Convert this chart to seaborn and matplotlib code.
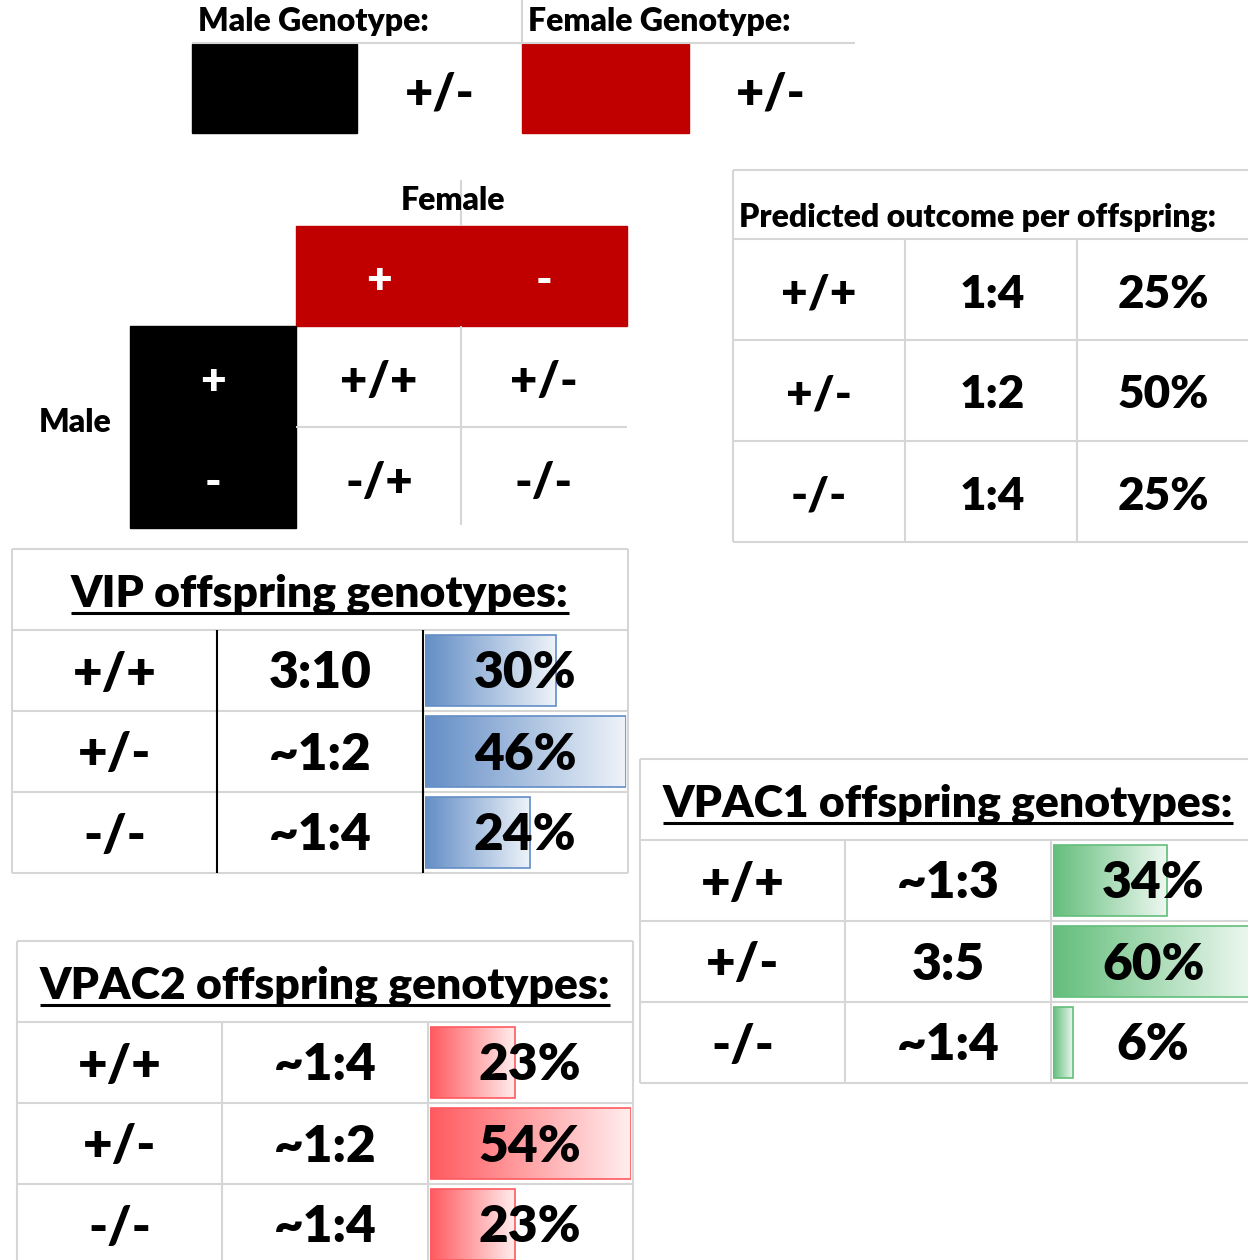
import numpy as np
import matplotlib
matplotlib.use("Agg")
import matplotlib.pyplot as plt
import seaborn as sns
from matplotlib.patches import Rectangle
from matplotlib.colors import LinearSegmentedColormap, to_rgb

sns.set_theme(style="white")
plt.rcParams['font.family'] = ['Lato', 'DejaVu Sans']

# ---- data ----
male_genotype = '+/-'
female_genotype = '+/-'
male_alleles = ['+', '-']
female_alleles = ['+', '-']

genotypes = ['+/+', '+/-', '-/-']
predicted_ratio = ['1:4', '1:2', '1:4']
predicted_pct = [25, 50, 25]

vip_ratio = ['3:10', '~1:2', '~1:4']
vip_pct = [30, 46, 24]

vpac1_ratio = ['~1:3', '3:5', '~1:4']
vpac1_pct = [34, 60, 6]

vpac2_ratio = ['~1:4', '~1:2', '~1:4']
vpac2_pct = [23, 54, 23]

W, H = 1248, 1260
GRID = '#D6D6D6'
RED = '#C00000'

fig = plt.figure(figsize=(W / 100, H / 100), dpi=100)
ax = fig.add_axes([0, 0, 1, 1])
ax.set_xlim(0, W)
ax.set_ylim(H, 0)
ax.axis('off')
ax.set_zorder(5)
ax.patch.set_visible(False)


def hline(y, x0, x1, c=GRID, lw=1.5):
    ax.plot([x0, x1], [y, y], color=c, lw=lw, solid_capstyle='butt')


def vline(x, y0, y1, c=GRID, lw=1.5):
    ax.plot([x, x], [y0, y1], color=c, lw=lw, solid_capstyle='butt')


def txt(x, y, s, size, color='black', ha='center', weight='heavy'):
    return ax.text(x, y, s, ha=ha, va='center', fontsize=size, color=color,
                   fontfamily='Lato', fontweight=weight)


# ---- parent genotypes ----
hline(43, 192, 855)
vline(522, 0, 43)
txt(198, 22, 'Male Genotype:', 23, ha='left')
txt(528, 22, 'Female Genotype:', 23, ha='left')
ax.add_patch(Rectangle((192, 44), 165, 89, color='black'))
ax.add_patch(Rectangle((522, 44), 167, 89, color=RED))
txt(440, 94, male_genotype, 35)
txt(771, 94, female_genotype, 35)

# ---- Punnett square ----
txt(453, 201, 'Female', 23)
txt(75, 423, 'Male', 23)
ax.add_patch(Rectangle((296, 226), 331, 100, color=RED))
ax.add_patch(Rectangle((130, 326), 166, 202, color='black'))
vline(461, 180, 226)
hline(427, 296, 627)
vline(461, 326, 525)
col_x = [379, 544]
row_y = [382, 483]
for j, a in enumerate(female_alleles):
    txt(col_x[j], 281, a, 32, color='white')
for i, m in enumerate(male_alleles):
    txt(213, row_y[i], m, 32, color='white')
    for j, f in enumerate(female_alleles):
        txt(col_x[j], row_y[i], f'{m}/{f}', 34)

# ---- predicted outcome ----
vline(733, 170, 542)
hline(170, 733, 1248)
for y in [239, 340, 441, 542]:
    hline(y, 733, 1248)
for x in [905, 1077]:
    vline(x, 239, 542)
txt(739, 218, 'Predicted outcome per offspring:', 23, ha='left')
for i, g in enumerate(genotypes):
    y = 294 + i * 101
    txt(819, y, g, 33)
    txt(992, y, predicted_ratio[i], 33)
    txt(1163, y, f'{predicted_pct[i]}%', 33)


# ---- offspring tables with data bars ----
def offspring_table(x0, ytop, title, ratios, pcts, color, inner_color=GRID):
    cw = 205.3
    rh = 81
    x1 = x0 + 3 * cw
    v1, v2 = x0 + cw, x0 + 2 * cw
    ybot = ytop + 4 * rh
    # frame
    hline(ytop, x0, x1)
    vline(x0, ytop, ybot)
    vline(x1, ytop, ybot)
    for k in range(1, 5):
        hline(ytop + k * rh, x0, x1)
    vline(v1, ytop + rh, ybot, c=inner_color)
    vline(v2, ytop + rh, ybot, c=inner_color)
    # title with underline
    ty = ytop + 45
    t = txt((x0 + x1) / 2, ty, title, 32)
    fig.canvas.draw()
    bb = t.get_window_extent().transformed(ax.transData.inverted())
    hline(ytop + 64, bb.x0, bb.x1, c='black', lw=2.2)
    # rows
    for i, g in enumerate(genotypes):
        y = ytop + rh + rh / 2 + i * rh + 3
        txt((x0 + v1) / 2, y, g, 37)
        txt((v1 + v2) / 2, y, ratios[i], 37)
        txt((v2 + x1) / 2, y, f'{pcts[i]}%', 37)
    # data bars
    bl, br = v2 + 2, x1 - 2
    bax = fig.add_axes([bl / W, 1 - ybot / H, (br - bl) / W, 3 * rh / H])
    bax.set_zorder(1)
    sns.barplot(x=pcts, y=genotypes, orient='h', color=color, width=0.88,
                ax=bax)
    light = tuple(0.9 + 0.1 * c for c in to_rgb(color))
    cmap = LinearSegmentedColormap.from_list('bar', [color, light])
    grad = np.linspace(0, 1, 256).reshape(1, -1)
    for p in bax.patches:
        px, py, pw, ph = p.get_x(), p.get_y(), p.get_width(), p.get_height()
        p.set_facecolor('none')
        p.set_edgecolor(color)
        p.set_linewidth(1.2)
        p.set_zorder(3)
        im = bax.imshow(grad, extent=[px, px + pw, py + ph, py], aspect='auto',
                        cmap=cmap, zorder=2, interpolation='bilinear')
        im.set_clip_path(p)
    bax.set_xlim(0, max(pcts))
    bax.set_ylim(2.5, -0.5)
    bax.axis('off')


offspring_table(12, 549, 'VIP offspring genotypes:', vip_ratio, vip_pct,
                '#638EC6', inner_color='black')
offspring_table(640, 759, 'VPAC1 offspring genotypes:', vpac1_ratio, vpac1_pct,
                '#63BE7B')
offspring_table(17, 941, 'VPAC2 offspring genotypes:', vpac2_ratio, vpac2_pct,
                '#FF5A5F')

fig.savefig('out.png', dpi=100, facecolor='white')
